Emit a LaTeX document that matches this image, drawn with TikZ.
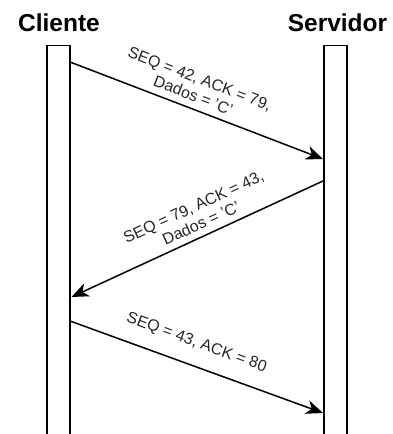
\documentclass[tikz,border=0pt]{standalone}
\usepackage{fontspec}
\setmainfont{Liberation Sans}
\usetikzlibrary{arrows.meta}
\begin{document}
\begin{tikzpicture}[x=1pt,y=1pt,
  bar/.style={draw, line width=1.5pt, fill=white, minimum width=23pt, minimum height=420pt, anchor=north, inner sep=0pt},
  msg/.style={line width=1.5pt, -{Stealth[length=17pt,width=14pt,inset=5pt]}},
  lbl/.style={font=\fontsize{16}{18}\selectfont, align=center, inner sep=0pt, text=black!85},
  title/.style={font=\fontsize{24.5}{28}\selectfont\bfseries, anchor=base}]
\useasboundingbox (0,0) rectangle (392,434);
\clip (0,0) rectangle (392,434);
\node[bar] (cbar) at (58.5,389) {};
\node[bar] (sbar) at (335.5,389) {};
\node[title] (ctitle) at (59,402) {Cliente};
\node[title] (stitle) at (337.5,402) {Servidor};
\coordinate (m1s) at (70,372);
\coordinate (m1e) at (323,275);
\coordinate (m2s) at (323,253);
\coordinate (m2e) at (71.5,137);
\coordinate (m3s) at (70,113);
\coordinate (m3e) at (323,21);
\draw[msg] (m1s) -- (m1e) coordinate[midway] (c1);
\draw[msg] (m2s) -- (m2e) coordinate[midway] (c2);
\draw[msg] (m3s) -- (m3e) coordinate[midway] (c3);
\node[lbl, rotate=-20.98] (l1) at ([yshift=23.5pt]c1) {SEQ = 42, ACK = 79,\\Dados = 'C'};
\node[lbl, rotate=24.76] (l2) at ([yshift=24pt]c2) {SEQ = 79, ACK = 43,\\Dados = 'C'};
\node[lbl, rotate=-19.98] (l3) at ([yshift=24pt]c3) {SEQ = 43, ACK = 80};
\end{tikzpicture}
\end{document}
